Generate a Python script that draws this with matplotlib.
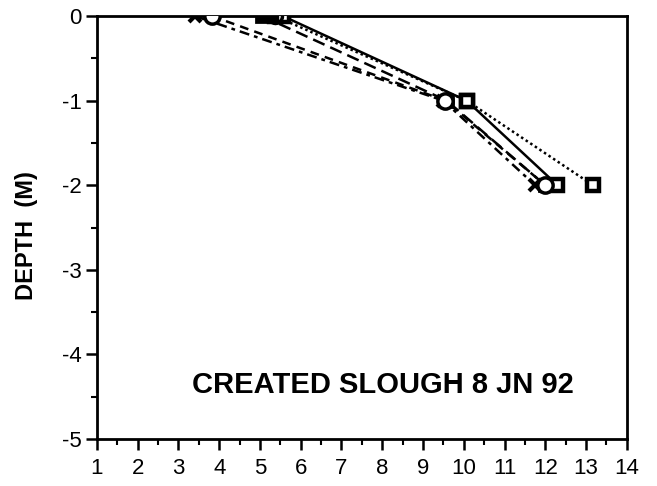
import matplotlib
matplotlib.use("Agg")
import matplotlib.pyplot as plt
from matplotlib.ticker import MultipleLocator

plt.rcParams['font.family'] = ['Liberation Sans', 'DejaVu Sans']

depth = [0, -1, -2]
s_cross = [3.4, 9.5, 11.75]
s_circle = [3.82, 9.55, 12.0]
s_fsquare = [5.05, 9.58, 12.0]
s_dotted = [5.37, 10.07, 13.17]
s_solid = [5.56, 10.07, 12.3]

xticks = list(range(1, 15))
yticks = [0, -1, -2, -3, -4, -5]
title_text = "CREATED SLOUGH 8 JN 92"

fig = plt.figure(figsize=(6.57, 4.86), dpi=100)
ax = fig.add_axes([0.1476, 0.0967, 0.8064, 0.8703])

lw = 1.8
ax.plot(s_cross, depth, color='black', lw=lw, ls=(0, (4, 2, 1.5, 2)),
        marker='x', ms=9, mew=3, zorder=3)
ax.plot(s_circle, depth, color='black', lw=lw, ls=(0, (3.5, 2.5)),
        marker='o', ms=11, mfc='white', mew=2.5, zorder=5)
ax.plot(s_fsquare, depth, color='black', lw=lw, ls=(0, (5, 2.5)),
        marker='s', ms=9, mfc='black', mew=2, zorder=3)
ax.plot(s_dotted, depth, color='black', lw=lw, ls=(0, (1, 1.2)),
        marker='s', ms=9, mfc='white', mew=3.2, zorder=3)
ax.plot(s_solid, depth, color='black', lw=lw, ls='-',
        marker='s', ms=9, mfc='white', mew=3.2, zorder=3)
# half-filled circle at the surface for the dotted group
ax.plot([s_dotted[0]], [depth[0]], color='black', marker='o', ms=10,
        fillstyle='left', mew=2.5, ls='none', zorder=4)

ax.set_xlim(1, 14)
ax.set_ylim(-5, 0)
ax.set_xticks(xticks)
ax.set_yticks(yticks)
ax.set_xticklabels([str(t) for t in xticks])
ax.set_yticklabels([str(t) for t in yticks])
ax.xaxis.set_minor_locator(MultipleLocator(0.5))
ax.yaxis.set_minor_locator(MultipleLocator(0.5))
ax.tick_params(which='major', direction='out', length=8, width=1.8,
               labelsize=16)
ax.tick_params(axis='y', which='major', pad=3)
ax.tick_params(axis='x', which='major', pad=6)
ax.tick_params(which='minor', direction='out', length=4, width=1.5)
for sp in ax.spines.values():
    sp.set_linewidth(2)

ax.set_ylabel("DEPTH  (M)", fontsize=17, fontweight='bold')
ax.yaxis.set_label_coords(-0.112, 0.48)
ax.text(8.02, -4.36, title_text, fontsize=21, fontweight='bold',
        ha='center', va='center')

fig.savefig("out.png", dpi=100)
